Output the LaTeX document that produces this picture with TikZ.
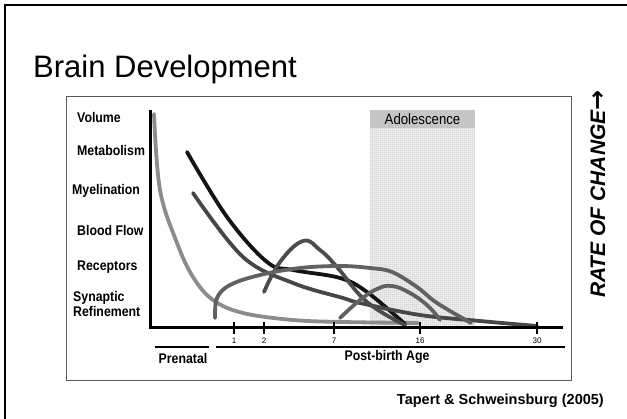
\documentclass[tikz,border=0pt]{standalone}
\usepackage{fontspec}
\setmainfont{Liberation Sans}
\newfontfamily\narrowfont[FakeStretch=0.88]{Liberation Sans}
\newfontfamily\arrowfont{DejaVu Sans}

\begin{document}
\begin{tikzpicture}[x=1pt,y=-1pt]
    \tikzstyle{lbl}=[font=\narrowfont\bfseries\fontsize{14}{14}\selectfont, anchor=west, inner sep=0pt]
    \tikzstyle{ticklbl}=[font=\fontsize{8}{8}\selectfont, inner sep=0pt]
    \tikzstyle{curve}=[line width=3.8pt, line cap=round]

    \useasboundingbox (0,0) rectangle (627,419);
    \draw[line width=2.5pt] (5,419) -- (5,5) -- (627,5);

    \node[anchor=base west, inner sep=0pt, font=\fontsize{31}{31}\selectfont] (title) at (33,78) {Brain Development};

    \draw[black!65, line width=1pt] (66,97) rectangle (571,381);

    % adolescence band
    \fill[gray!8] (370,128) rectangle (475,328);
    \draw[gray!25, line width=0.3pt, step=2pt] (370,128) grid (475,328);
    \node[fill=gray!45, minimum width=105pt, minimum height=18pt, inner sep=0pt,
          font=\narrowfont\fontsize{15}{15}\selectfont] (adol) at (422.5,119) {Adolescence};

    \node[lbl] (vol) at (77,117) {Volume};
    \node[lbl] (met) at (77,150) {Metabolism};
    \node[lbl] (mye) at (72,191) {Myelination};
    \node[lbl] (blood) at (77,230) {Blood Flow};
    \node[lbl] (rec) at (77,267) {Receptors};
    \node[lbl, align=left, font=\narrowfont\bfseries\fontsize{14}{13}\selectfont] (syn) at (73,304) {Synaptic\\Refinement};

    % curves
    \draw[curve, black!45] plot[smooth, tension=0.6] coordinates
        {(154,114) (160,190) (177,243) (193,277) (213,300) (243,313) (293,320) (343,322) (418,323)};
    \draw[curve, black!92] plot[smooth, tension=0.6] coordinates
        {(187,152) (227,217) (267,262) (293,270) (340,278) (367,292) (405,324)};
    \draw[curve, black!72] plot[smooth, tension=0.6] coordinates
        {(193,193) (243,257) (293,283) (343,298) (360,303) (420,315) (480,321) (537,326)};
    \draw[curve, black!70] plot[smooth, tension=0.7] coordinates
        {(264,292) (280,262) (303,241) (320,250) (337,267) (367,302) (405,325)};
    \draw[curve, black!62] plot[smooth, tension=0.6] coordinates
        {(215,318) (217,298) (230,285) (260,275) (300,268) (340,266) (370,268) (392,272) (417,287) (437,303) (471,323)};
    \draw[curve, black!62] plot[smooth, tension=0.7] coordinates
        {(340,318) (360,300) (377,289) (392,286) (410,293) (428,306) (440,320)};

    % axes
    \coordinate (ytop) at (150,110);
    \coordinate (orig) at (150,328);
    \coordinate (xend) at (563,328);
    \draw[line width=3pt] (ytop) -- (orig) -- (xend);

    \foreach \x/\t in {234/1, 264/2, 334/7, 420/16, 537/30} {
        \draw[line width=1.5pt] (\x,322) -- (\x,334);
        \node[ticklbl] (t\t) at (\x,341) {\t};
    }

    \coordinate (pre_a) at (155,347);
    \coordinate (pre_b) at (209,347);
    \coordinate (post_a) at (216,347);
    \coordinate (post_b) at (565,347);
    \draw[line width=1.8pt] (pre_a) -- (pre_b);
    \draw[line width=1.8pt] (post_a) -- (post_b);
    \node[font=\narrowfont\bfseries\fontsize{14}{14}\selectfont] (pre) at (183,358) {Prenatal};
    \node[font=\narrowfont\bfseries\fontsize{14}{14}\selectfont] (post) at (387,357) {Post-birth Age};

    \node[rotate=90, inner sep=0pt, font=\bfseries\itshape\fontsize{21}{21}\selectfont] (rate) at (598,194)
        {RATE OF CHANGE{\arrowfont\bfseries\fontsize{24}{24}\selectfont →}};

    \node[anchor=east, inner sep=0pt, font=\bfseries\fontsize{14.5}{15}\selectfont] (src) at (604,401)
        {Tapert \& Schweinsburg (2005)};
\end{tikzpicture}
\end{document}
